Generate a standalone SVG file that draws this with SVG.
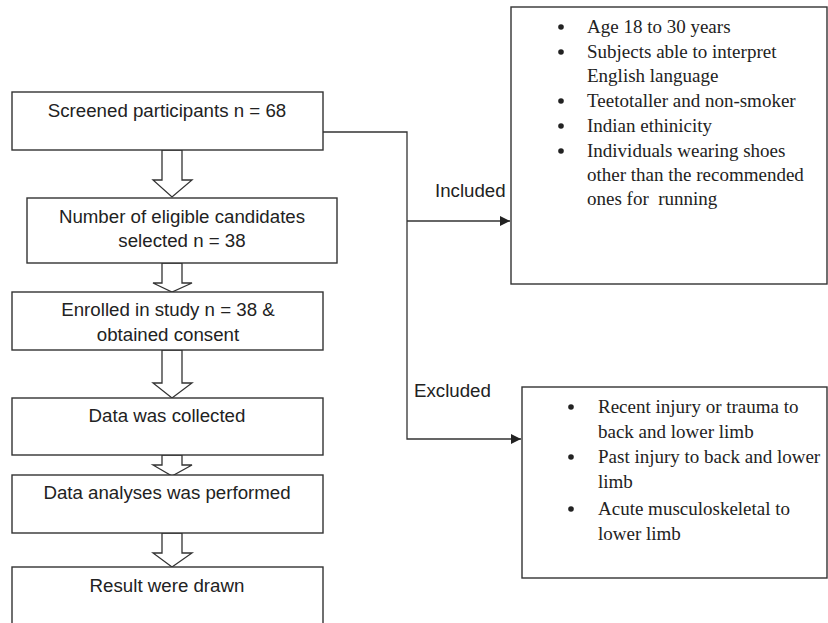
<svg xmlns="http://www.w3.org/2000/svg" width="828" height="623" viewBox="0 0 828 623">
<style>
.box{fill:#fff;stroke:#333;stroke-width:1.4}
.blk{fill:#fff;stroke:#333;stroke-width:1.3;stroke-linejoin:miter}
.ln{fill:none;stroke:#333;stroke-width:1.3}
.s{font-family:"Liberation Sans",Arial,sans-serif;font-size:18.7px;fill:#222}
.m{text-anchor:middle}
.t{font-family:"Liberation Serif","Times New Roman",serif;font-size:19px;fill:#222;white-space:pre}
</style>
<defs>
<marker id="ah" viewBox="0 0 10 10" refX="10" refY="5" markerWidth="10" markerHeight="10" markerUnits="userSpaceOnUse" orient="auto">
<path d="M0,0 L10,5 L0,10 Z" fill="#222"/>
</marker>
</defs>
<rect width="828" height="623" fill="#fff"/>
<g id="connectors">
<polyline class="ln" points="323,132 407,132 407,439 521,439" marker-end="url(#ah)"/>
<line class="ln" x1="407" y1="221" x2="510" y2="221" marker-end="url(#ah)"/>
<polygon class="blk" points="162,150 182,150 182,180 192,180 172,197 153,180 162,180"/>
<polygon class="blk" points="162,263 182,263 182,283 192,283 172,292 153,283 162,283"/>
<polygon class="blk" points="162,350 182,350 182,383 192,383 172,398 153,383 162,383"/>
<polygon class="blk" points="162,455 182,455 182,465 192,465 172,476 153,465 162,465"/>
<polygon class="blk" points="162,533 182,533 182,553 192,553 172,567 153,553 162,553"/>
<text class="s" x="435" y="197">Included</text>
<text class="s" x="414" y="397">Excluded</text>
</g>
<g id="n1"><rect class="box" x="12" y="92" width="311" height="58"/><text class="s m" x="167" y="117">Screened participants n = 68</text></g>
<g id="n2"><rect class="box" x="27" y="198" width="310" height="65"/><text class="s m" x="182" y="223">Number of eligible candidates</text><text class="s m" x="182" y="247">selected n = 38</text></g>
<g id="n3"><rect class="box" x="12" y="292" width="311" height="58"/><text class="s m" x="168" y="316">Enrolled in study n = 38 &amp;</text><text class="s m" x="168" y="341">obtained consent</text></g>
<g id="n4"><rect class="box" x="12" y="398" width="311" height="57"/><text class="s m" x="167" y="422">Data was collected</text></g>
<g id="n5"><rect class="box" x="12" y="475" width="311" height="58"/><text class="s m" x="167" y="499">Data analyses was performed</text></g>
<g id="n6"><rect class="box" x="12" y="567" width="311" height="70"/><text class="s m" x="167" y="592">Result were drawn</text></g>
<g id="included"><rect class="box" x="511" y="7" width="316" height="277"/>
<g fill="#222"><circle cx="561" cy="27" r="2.8"/><circle cx="561" cy="52" r="2.8"/><circle cx="561" cy="101" r="2.8"/><circle cx="561" cy="126" r="2.8"/><circle cx="561" cy="151" r="2.8"/></g>
<text class="t" x="587" y="33">Age 18 to 30 years</text>
<text class="t" x="587" y="58">Subjects able to interpret</text>
<text class="t" x="587" y="82">English language</text>
<text class="t" x="587" y="107">Teetotaller and non-smoker</text>
<text class="t" x="587" y="132">Indian ethinicity</text>
<text class="t" x="587" y="157">Individuals wearing shoes</text>
<text class="t" x="587" y="181">other than the recommended</text>
<text class="t" x="587" y="205">ones for  running</text>
</g>
<g id="excluded"><rect class="box" x="522" y="387" width="305" height="191"/>
<g fill="#222"><circle cx="571" cy="407" r="2.8"/><circle cx="571" cy="457" r="2.8"/><circle cx="571" cy="509" r="2.8"/></g>
<text class="t" x="598" y="413">Recent injury or trauma to</text>
<text class="t" x="598" y="438">back and lower limb</text>
<text class="t" x="598" y="463">Past injury to back and lower</text>
<text class="t" x="598" y="488">limb</text>
<text class="t" x="598" y="515">Acute musculoskeletal to</text>
<text class="t" x="598" y="540">lower limb</text>
</g>
</svg>
